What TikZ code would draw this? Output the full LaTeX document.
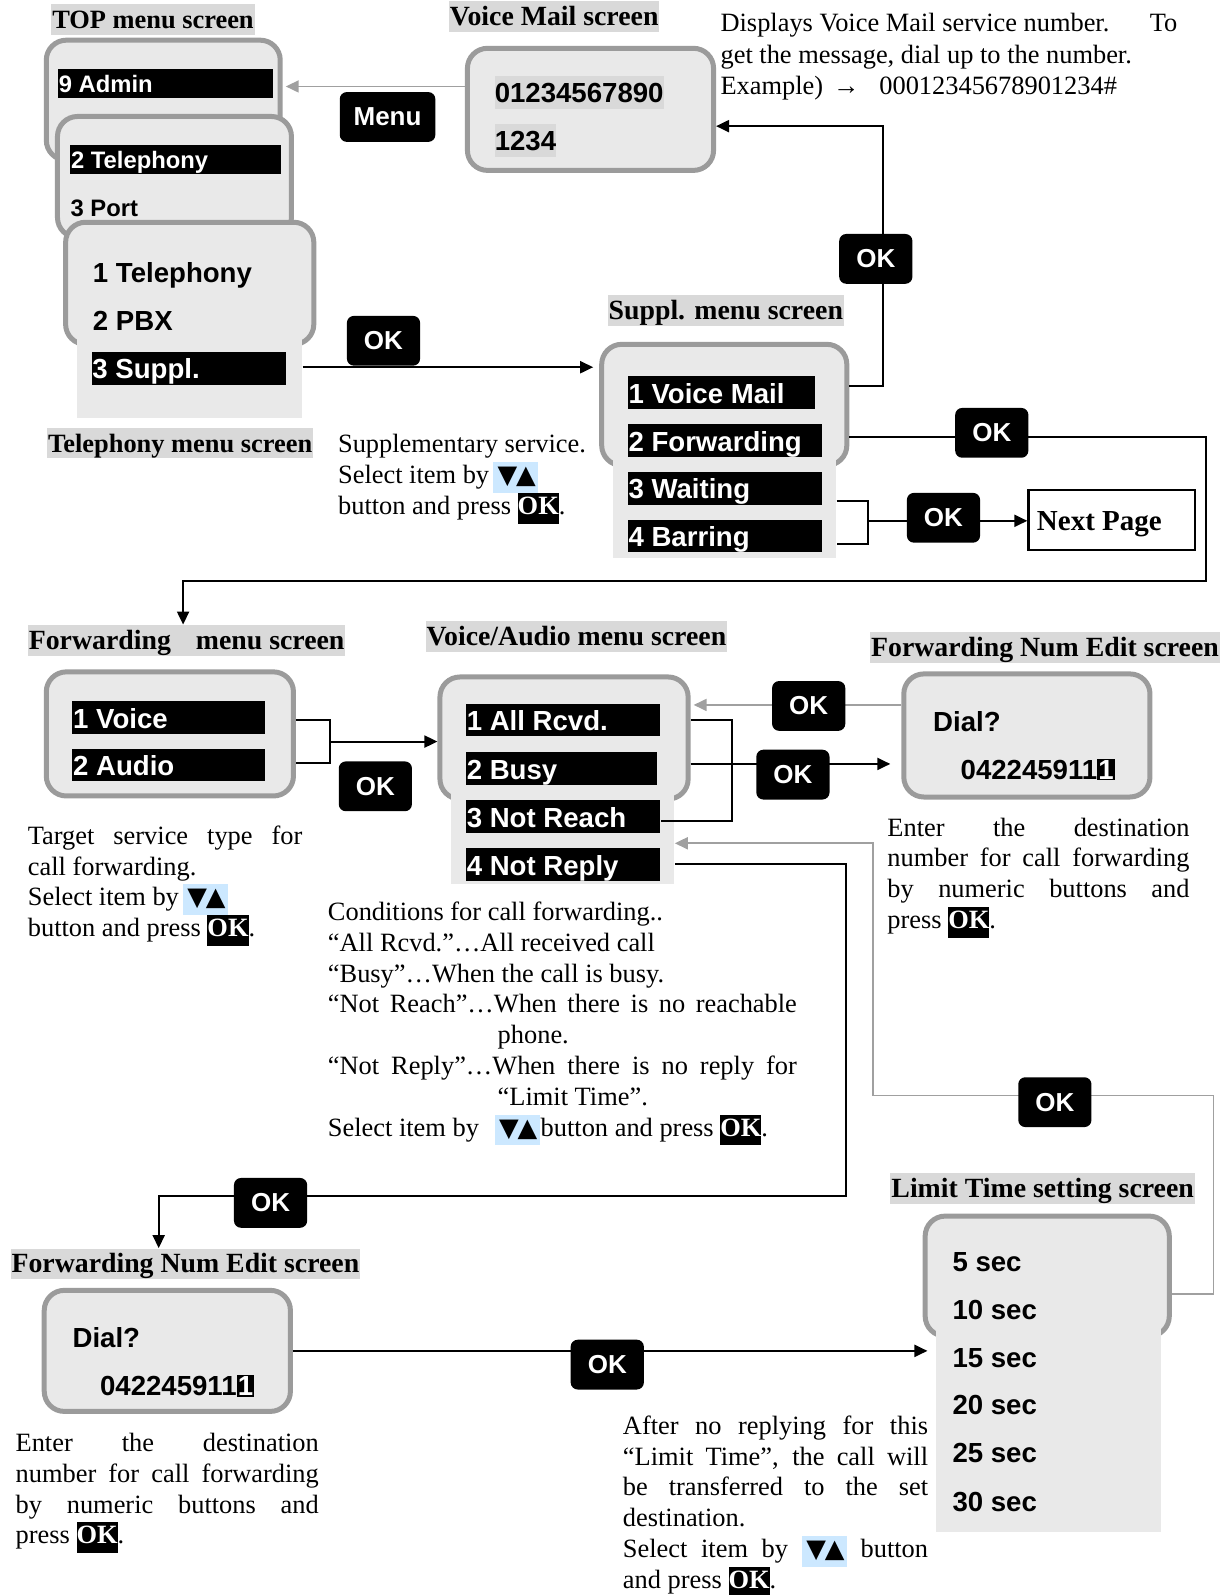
\documentclass[tikz,border=0pt]{standalone}
\usepackage{fontspec}
\setmainfont{Liberation Serif}
\setsansfont{Liberation Sans}
\newfontfamily\djv{DejaVu Sans}
\usetikzlibrary{arrows.meta,fit}
\definecolor{scrfill}{HTML}{E9E9E9}
\definecolor{scrgray}{HTML}{9B9B9B}
\definecolor{lblgray}{HTML}{D9D9D9}
\definecolor{hlblue}{HTML}{CCE8FF}
\definecolor{lngray}{HTML}{A0A0A0}
\newcommand\okin{{\setlength\fboxsep{0pt}\colorbox{black}{\strut\textcolor{white}{\bfseries OK}}}}
\newcommand\hlud{{\setlength\fboxsep{0pt}\colorbox{hlblue}{\strut\hspace{2.3pt}{\djv\fontsize{12.8}{12}\selectfont ▼\kern-0.6pt▲}\hspace{1.2pt}}}}
\newcommand\invd[1]{{\setlength\fboxsep{0.6pt}\colorbox{black}{\textcolor{white}{#1}}}}
\newcommand\tb[2][15.4pt]{\vtop{\fontsize{13.2}{#1}\selectfont #2}}
\newcommand\scrn[5]{\node[scr, fit={(#2+2.5,#3+2.5) (#4-2.5,#5-2.5)}] (#1) {};}
\newcommand\extr[5]{\node[extbox, fit={(#2,#3) (#4,#5)}] (#1) {};}
\newcommand\sbar[7]{\node[barbox, fit={(#2,#3) (#4,#5)}] (#1) {};\node[#7] (#1t) at (#2+0.5,#5-5.5) {#6};}
\begin{document}
\begin{tikzpicture}[x=0.50867pt, y=-0.50867pt,
 scr/.style={draw=scrgray, line width=2.5pt, fill=scrfill, rounded corners=10pt, inner sep=0pt},
 extbox/.style={fill=scrfill, draw=none, inner sep=0pt},
 barbox/.style={fill=black, draw=none, inner sep=0pt},
 bt/.style={text=white, font=\sffamily\bfseries\fontsize{13.8}{15}\selectfont, inner sep=0pt, anchor=base west},
 bts/.style={bt, font=\sffamily\bfseries\fontsize{11.9}{13}\selectfont},
 st/.style={bt, text=black},
 sts/.style={bts, text=black},
 vmt/.style={st, fill=lblgray, text height=13.2pt, text depth=3pt},
 hdg/.style={fill=lblgray, font=\bfseries\fontsize{13.9}{15}\selectfont, inner xsep=0.5pt, inner ysep=0.2pt, text height=12pt, text depth=3pt, anchor=north west},
 hdgs/.style={hdg, font=\bfseries\fontsize{13.2}{15}\selectfont},
 okb/.style={fill=black, rounded corners=3.5pt, text=white, font=\sffamily\bfseries\fontsize{13}{15}\selectfont, minimum width=36.6pt, minimum height=24.9pt, inner sep=0pt},
 conn/.style={line width=1pt, draw=black},
 arr/.style={conn, -{Triangle[length=6.5pt,width=6pt]}},
 gconn/.style={line width=0.9pt, draw=lngray},
 garr/.style={gconn, -{Triangle[length=6.5pt,width=6pt]}},
 para/.style={inner sep=0pt, anchor=base west}]
\useasboundingbox (0,0) rectangle (1211,1568);

% ---------- TOP / Telephony stack ----------
\scrn{admin}{43}{37}{278}{160}
\sbar{adminbar}{57}{68}{268}{96}{9 Admin}{bts}
\scrn{tel2}{54}{112}{289}{236}
\sbar{telbar}{69}{143}{276}{171}{2 Telephony}{bts}
\node[sts] (port) at (69,213) {3 Port};
\scrn{tel}{62}{216}{311}{341}
\extr{telext}{76}{330}{297}{411}
\node[st] (tel1) at (91,278) {1 Telephony};
\node[st] (tel2t) at (91,325) {2 PBX};
\sbar{supplbar}{90}{346}{281}{378}{3 Suppl.}{bt}

% ---------- Voice Mail ----------
\scrn{vm}{457}{45}{704}{170}
\node[vmt] (vm1) at (486,101) {01234567890};
\node[vmt] (vm2) at (486,148) {1234};

% ---------- Suppl ----------
\scrn{suppl}{589}{336}{835}{460}
\extr{supplext}{603}{448}{822}{549}
\sbar{svm}{617}{370}{801}{402}{1 Voice Mail}{bt}
\sbar{sfw}{617}{417}{808}{449}{2 Forwarding}{bt}
\sbar{swt}{617}{464}{808}{496}{3 Waiting}{bt}
\sbar{sbr}{617}{511}{808}{543}{4 Barring}{bt}

% ---------- Forwarding ----------
\scrn{fwd}{43}{658}{291}{785}
\sbar{fv}{71}{689}{261}{722}{1 Voice}{bt}
\sbar{fa}{71}{736}{261}{768}{2 Audio}{bt}

% ---------- Voice/Audio ----------
\scrn{va}{430}{663}{679}{788}
\extr{vaext}{443}{778}{663}{869}
\sbar{va1}{458}{692}{649}{724}{1 All Rcvd.}{bt}
\sbar{va2}{458}{739}{646}{772}{2 Busy}{bt}
\sbar{va3}{458}{786}{649}{819}{3 Not Reach}{bt}
\sbar{va4}{458}{834}{649}{866}{4 Not Reply}{bt}

% ---------- Forwarding Num Edit (top right) ----------
\scrn{fne}{886}{660}{1133}{786}
\node[st] (fned) at (917,719) {Dial?};
\node[st] (fnen) at (944,766) {042245911\invd{1}};

% ---------- Limit Time ----------
\scrn{lt}{907}{1193}{1152}{1316}
\extr{ltext}{920}{1305}{1141}{1506}
\node[st] (lt5) at (936,1250) {5 sec};
\node[st] (lt10) at (936,1297) {10 sec};
\node[st] (lt15) at (936,1344) {15 sec};
\node[st] (lt20) at (936,1391) {20 sec};
\node[st] (lt25) at (936,1438) {25 sec};
\node[st] (lt30) at (936,1486) {30 sec};

% ---------- Forwarding Num Edit (bottom left) ----------
\scrn{fne2}{41}{1266}{288}{1390}
\node[st] (fne2d) at (71,1325) {Dial?};
\node[st] (fne2n) at (98,1372) {042245911\invd{1}};

% ---------- Next Page ----------
\node[draw, line width=1.1pt, inner sep=0pt, fit={(1011,482) (1175,541)}] (np) {};
\node[para, font=\bfseries\fontsize{14.5}{16}\selectfont] (npt) at (1019,522) {Next Page};

% ---------- Headings ----------
\node[hdgs] (toplbl) at (50,4) {TOP menu screen};
\node[hdg] (vmlbl) at (441,1) {Voice Mail screen};
\node[hdgs] (tellbl) at (46,420) {Telephony menu screen};
\node[hdg] (supllbl) at (597,290) {Suppl. menu screen};
\node[hdg] (fwdlbl) at (27,614) {Forwarding\hspace{0.9em}menu screen};
\node[hdg] (valbl) at (418,610) {Voice/Audio menu screen};
\node[hdg] (fnelbl) at (855,621) {Forwarding Num Edit screen};
\node[hdg] (ltlbl) at (875,1153) {Limit Time setting screen};
\node[hdg] (fne2lbl) at (10,1227) {Forwarding Num Edit screen};

% ---------- Connectors ----------
\draw[garr, shorten >=1.5pt] (vm.west |- 0,85) -- (admin.east |- 0,85);
\draw[arr, shorten >=3pt] (telext.east |- 0,361) -- (suppl.west |- 0,361);
\draw[arr] (suppl.east |- 0,379) -- (868,379) -- (868,124) -- (vm.east |- 0,124);
\draw[arr] (suppl.east |- 0,430) -- (1186,430) -- (1186,571) -- (180,571) -- (fwdlbl.north -| 180,0);
\draw[conn] (supplext.east |- 0,493) -- (853,493) -- (853,535) -- (supplext.east |- 0,535);
\draw[arr] (853,512) -- (np.west |- 0,512);
\draw[conn] (fwd.east |- 0,708) -- (324,708) -- (324,750) -- (fwd.east |- 0,750);
\draw[arr] (324,729) -- (va.west |- 0,729);
\draw[conn] (va.east |- 0,708) -- (720,708) -- (720,807) -- (va3.east |- 0,807);
\draw[arr, shorten >=5.5pt] (va.east |- 0,751) -- (fne.west |- 0,751);
\draw[garr, shorten >=1.5pt] (fne.west |- 0,693) -- (va.east |- 0,693);
\draw[garr] (lt.east |- 0,1272) -- (1193,1272) -- (1193,1077) -- (858,1077) -- (858,829) -- (vaext.east |- 0,829);
\draw[arr] (vaext.east |- 0,849) -- (832,849) -- (832,1176) -- (156,1176) -- (fne2lbl.north -| 156,0);
\draw[arr, shorten >=4pt] (fne2.east |- 0,1328) -- (ltext.west |- 0,1328);

% ---------- OK buttons ----------
\node[okb] (ok1) at (861,254.5) {OK};
\node[okb] (ok2) at (377,335) {OK};
\node[okb] (ok3) at (975,425.5) {OK};
\node[okb] (ok4) at (927.5,509) {OK};
\node[okb] (ok5) at (369,773) {OK};
\node[okb] (ok6) at (795,694) {OK};
\node[okb] (ok7) at (779.5,761.5) {OK};
\node[okb] (ok8) at (1037,1083.5) {OK};
\node[okb] (ok9) at (266,1182.5) {OK};
\node[okb] (ok10) at (597,1341.5) {OK};
\node[okb, minimum width=47.8pt] (menu) at (381,115) {Menu};

% ---------- Body texts ----------
\node[para] (vmnote) at (708,31) {\tb[15.8pt]{%
\hbox to 228.4pt{Displays Voice Mail service number.\hfill To}%
\hbox{get the message, dial up to the number.}%
\hbox{\makebox[79.4pt][l]{Example)\hspace{5pt}→}00012345678901234\#}}};
\node[para] (supnote) at (332,445) {\tb{%
\hbox{Supplementary service.}%
\hbox{Select item by\hspace{2pt}\hlud}%
\hbox{button and press \okin.}}};
\node[para] (fwdnote) at (27,830) {\tb{%
\hbox to 137.3pt{Target service type for}%
\hbox{call forwarding.}%
\hbox{Select item by\hspace{2pt}\hlud}%
\hbox{button and press \okin.}}};
\node[para] (fnenote) at (872,822) {\tb{%
\hbox to 151.1pt{Enter the destination}%
\hbox to 151.1pt{number for call forwarding}%
\hbox to 151.1pt{by numeric buttons and}%
\hbox{press \okin.}}};
\node[para] (vanote) at (322,905) {\tb{%
\hbox{Conditions for call forwarding..}%
\hbox{“All Rcvd.”…All received call}%
\hbox{“Busy”…When the call is busy.}%
\hbox to 234.5pt{“Not Reach”…When there is no reachable}%
\hbox{\hspace{84.9pt}phone.}%
\hbox to 234.5pt{“Not Reply”…When there is no reply for}%
\hbox{\hspace{84.9pt}“Limit Time”.}%
\hbox{Select item by\hspace{7.8pt}\hlud\hspace{0.5pt}button and press \okin.}}};
\node[para] (fne2note) at (15,1427) {\tb{%
\hbox to 151.6pt{Enter the destination}%
\hbox to 151.6pt{number for call forwarding}%
\hbox to 151.6pt{by numeric buttons and}%
\hbox{press \okin.}}};
\node[para] (ltnote) at (612,1410) {\tb{%
\hbox to 152.6pt{After no replying for this}%
\hbox to 152.6pt{“Limit Time”, the call will}%
\hbox to 152.6pt{be transferred to the set}%
\hbox{destination.}%
\hbox to 152.6pt{Select item by \hlud{} button}%
\hbox{and press \okin.}}};
\end{tikzpicture}
\end{document}
